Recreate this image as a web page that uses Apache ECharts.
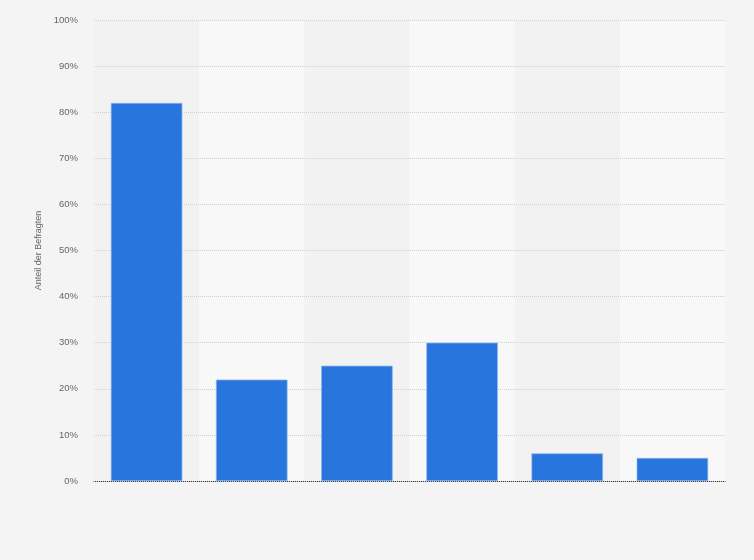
<!DOCTYPE html>
<html>
<head>
<meta charset="utf-8">
<script src="https://cdn.jsdelivr.net/npm/echarts@6/dist/echarts.min.js"></script>
<style>
  html, body { margin: 0; padding: 0; background: #f4f4f4; }
  #chart { width: 754px; height: 560px; }
</style>
</head>
<body>
<div id="chart"></div>
<script>
// no category labels are shown in the chart
const categories = ['', '', '', '', '', ''];
const shares = [82, 22, 25, 30, 6, 5];
const yTicks = [0, 10, 20, 30, 40, 50, 60, 70, 80, 90, 100];

const myChart = echarts.init(document.getElementById('chart'));
const option = {
  backgroundColor: '#f4f4f4',
  animation: false,
  grid: { left: 94, right: 29, top: 20, bottom: 79 },
  xAxis: {
    type: 'category',
    data: categories,
    z: 0,
    axisLine: { lineStyle: { color: '#333', width: 1 } },
    axisTick: { show: false },
    axisLabel: { show: false },
    splitArea: { show: true, areaStyle: { color: ['#f2f2f2', '#f8f8f8'] } }
  },
  yAxis: {
    type: 'value',
    min: yTicks[0],
    max: yTicks[yTicks.length - 1],
    interval: 10,
    z: 1,
    name: 'Anteil der Befragten',
    nameLocation: 'middle',
    nameGap: 50,
    nameTextStyle: { color: '#666', fontSize: 9, fontFamily: 'Liberation Sans' },
    axisLine: { show: false },
    axisTick: { show: false },
    axisLabel: {
      color: '#666',
      fontSize: 9.5,
      fontFamily: 'Liberation Sans',
      margin: 16,
      formatter: '{value}%'
    },
    splitLine: { lineStyle: { color: '#cfcfcf', type: 'dotted', width: 1 } }
  },
  series: [
    {
      type: 'bar',
      data: shares,
      barWidth: '68%',
      z: 2,
      itemStyle: {
        color: '#2876dd',
        borderColor: '#8db6ee',
        borderWidth: 0.7
      }
    }
  ]
};
myChart.setOption(option);
</script>
</body>
</html>
